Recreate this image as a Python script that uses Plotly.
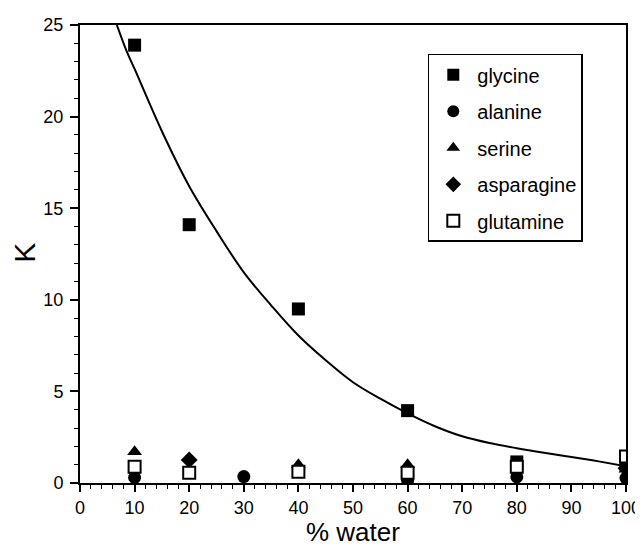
import plotly.graph_objects as go

# data
gly_x = [10, 20, 40, 60, 80, 100]
gly_y = [23.9, 14.1, 9.5, 3.95, 1.15, 1.0]
ala_x = [10, 30, 60, 80, 100]
ala_y = [0.3, 0.35, 0.15, 0.33, 0.27]
ser_x = [10, 40, 60, 100]
ser_y = [1.71, 1.0, 1.0, 0.75]
asn_x = [20, 100]
asn_y = [1.26, 0.8]
gln_x = [10, 20, 40, 60, 80, 100]
gln_y = [0.89, 0.56, 0.62, 0.56, 0.89, 1.44]

# fitted curve
fit_x = [6.75, 8.5, 10, 15, 20, 25, 30, 35, 40, 45, 50, 55, 60, 65, 70, 75, 80, 85, 90, 95, 100]
fit_y = [25, 23.6, 22.6, 19.2, 16.2, 13.75, 11.5, 9.7, 8.05, 6.7, 5.5, 4.6, 3.8, 3.1, 2.55, 2.18, 1.9, 1.65, 1.42, 1.18, 0.92]

x_ticks = list(range(0, 101, 10))
y_ticks = [0, 5, 10, 15, 20, 25]

fig = go.Figure()
fig.add_trace(go.Scatter(x=fit_x, y=fit_y, mode="lines",
                         line=dict(color="black", width=2, shape="spline", smoothing=1.0),
                         showlegend=False, hoverinfo="skip"))

fig.add_trace(go.Scatter(x=gly_x, y=gly_y, mode="markers", name="glycine", legendgroup="a",
                         marker=dict(symbol="square", color="black", size=13)))
fig.add_trace(go.Scatter(x=ala_x, y=ala_y, mode="markers", name="alanine", legendgroup="b",
                         marker=dict(symbol="circle", color="black", size=13)))
fig.add_trace(go.Scatter(x=ser_x, y=ser_y, mode="markers", name="serine", legendgroup="c",
                         marker=dict(symbol="triangle-up", color="black", size=13)))
fig.add_trace(go.Scatter(x=asn_x, y=asn_y, mode="markers", name="asparagine", legendgroup="d",
                         marker=dict(symbol="diamond", color="black", size=13)))
fig.add_trace(go.Scatter(x=gln_x, y=gln_y, mode="markers", name="glutamine", legendgroup="e",
                         marker=dict(symbol="square", color="white", size=12,
                                     line=dict(color="black", width=2))))

font_family = "Liberation Sans, Arial, sans-serif"
fig.update_layout(
    width=635, height=540,
    margin=dict(l=72, r=17, t=17, b=65),
    paper_bgcolor="white", plot_bgcolor="white",
    font=dict(family=font_family, color="black", size=18),
    legend=dict(x=0.637, y=0.937, xanchor="left", yanchor="top",
                bordercolor="black", borderwidth=1.5, bgcolor="white",
                font=dict(size=20), tracegroupgap=7.5, itemwidth=38,
                itemsizing="constant"),
    xaxis=dict(range=[0, 100], tickvals=x_ticks, ticktext=[str(v) for v in x_ticks],
               ticks="outside", ticklen=7, tickwidth=1.5, tickcolor="black",
               minor=dict(dtick=2, ticks="outside", ticklen=4, tickwidth=1, tickcolor="black"),
               showline=True, linecolor="black", linewidth=2, mirror=True,
               showgrid=False, zeroline=False, automargin=False),
    yaxis=dict(range=[0, 25], tickvals=y_ticks, ticktext=[str(v) for v in y_ticks],
               ticks="outside", ticklen=8, tickwidth=1.5, tickcolor="black",
               ticklabelstandoff=3,
               minor=dict(dtick=1, ticks="outside", ticklen=4, tickwidth=1, tickcolor="black"),
               showline=True, linecolor="black", linewidth=2, mirror=True,
               showgrid=False, zeroline=False, automargin=False),
    annotations=[
        dict(text="% water", xref="paper", yref="paper", x=0.5, y=-0.106,
             xanchor="center", yanchor="middle", showarrow=False, font=dict(size=26)),
        dict(text="K", xref="paper", yref="paper", x=-0.103, y=0.502,
             xanchor="center", yanchor="middle", showarrow=False, textangle=-90,
             font=dict(size=30)),
    ],
)

fig.write_html("out.html")
